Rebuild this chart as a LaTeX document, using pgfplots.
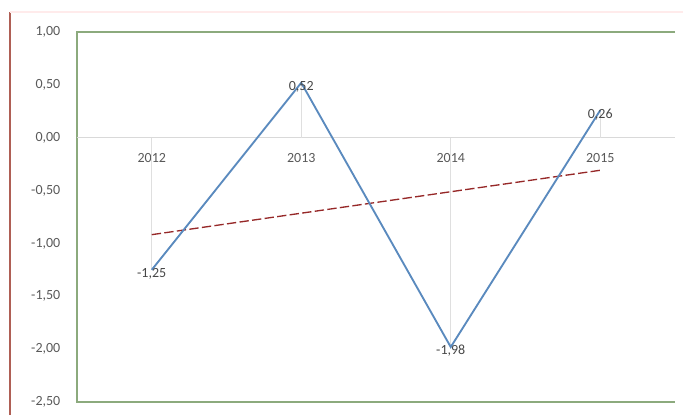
\documentclass[border=0pt]{standalone}
\usepackage{pgfplots}
\pgfplotsset{compat=1.18}
\usepackage{fontspec}
\setmainfont{Carlito}
\definecolor{txt}{RGB}{89,89,89}
\definecolor{serie}{RGB}{90,138,190}
\definecolor{trend}{RGB}{150,40,40}
\definecolor{frame}{RGB}{140,170,125}
\definecolor{leftred}{RGB}{175,95,85}
\begin{document}
\begin{tikzpicture}[x=1pt,y=1pt]
\useasboundingbox (0,0) rectangle (512.25,311.25);
\draw[leftred, line width=1pt] (7.5,0) -- (7.5,302.25);
\draw[red!8, line width=0.8pt] (7.5,302.25) -- (512.25,302.25);
\begin{axis}[
  at={(57.75pt,9.75pt)}, anchor=south west,
  scale only axis, width=448.5pt, height=277.5pt,
  xmin=-0.5, xmax=3.5, ymin=-2.5, ymax=1,
  axis x line*=middle, axis y line*=left,
  x axis line style={draw=none}, y axis line style={draw=none},
  xtick={0,1,2,3}, xticklabels={2012,2013,2014,2015},
  ytick={-2.5,-2,-1.5,-1,-0.5,0,0.5,1},
  major tick length=0,
  font=\fontsize{10.5}{12}\selectfont\color{txt},
  /pgf/number format/assume math mode=true,
  yticklabel={\pgfmathprintnumber[fixed,fixed zerofill,precision=2,use comma]{\tick}},
  yticklabel style={xshift=-9pt},
  xticklabel style={yshift=-8pt},
  clip=false,
]
\draw[frame, line width=0.9pt] (rel axis cs:1,1) -- (rel axis cs:0,1) -- (rel axis cs:0,0) -- (rel axis cs:1,0);
\draw[gray!30, line width=0.6pt] (axis cs:-0.5,0) -- (axis cs:3.5,0);
\addplot[ycomb, gray!25, line width=0.6pt, mark=none] coordinates {(0,-1.25) (1,0.52) (2,-1.98) (3,0.26)};
\addplot[trend, line width=1pt, dash pattern=on 7pt off 2.5pt, mark=none] coordinates {(0,-0.917) (3,-0.308)};
\addplot[serie, line width=1.4pt, mark=none,
  nodes near coords={\pgfmathprintnumber[fixed,fixed zerofill,precision=2,use comma]{\pgfplotspointmeta}},
  point meta=explicit,
  every node near coord/.append style={anchor=center, yshift=-3pt, font=\fontsize{10.5}{12}\selectfont, text=txt!80!black}]
  coordinates {(0,-1.25) [-1.25] (1,0.52) [0.52] (2,-1.98) [-1.98] (3,0.26) [0.26]};
\end{axis}
\end{tikzpicture}
\end{document}
